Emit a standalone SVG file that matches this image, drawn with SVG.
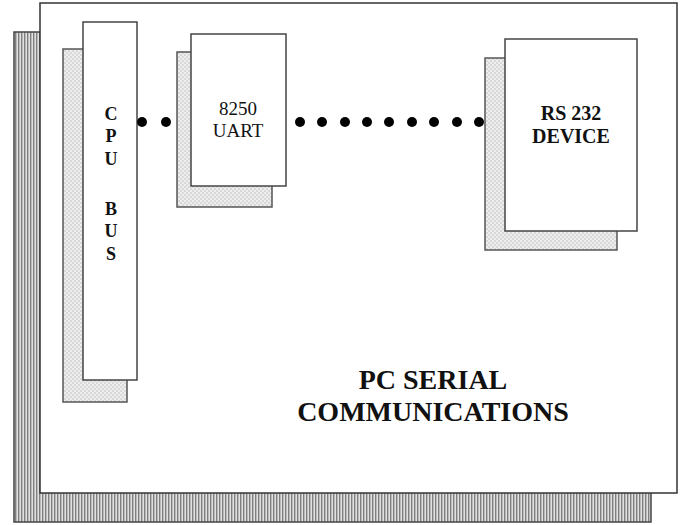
<svg xmlns="http://www.w3.org/2000/svg" width="683" height="525" viewBox="0 0 683 525">
<style>
.panel{fill:#fff;stroke:#333;stroke-width:1.5}
.front{fill:#fff;stroke:#444;stroke-width:1.5}
.shadow{fill:url(#dots);stroke:#555;stroke-width:1.5}
.outer-shadow{fill:url(#stripes);stroke:#444;stroke-width:1.5}
.lbl{font-family:"Liberation Serif","Times New Roman",serif;fill:#111;text-anchor:middle}
.b{font-weight:bold}
.dot{fill:#000}
</style>
<defs>
<pattern id="stripes" width="3" height="3" patternUnits="userSpaceOnUse">
<rect width="3" height="3" fill="#e0e0e0"/>
<rect width="1.4" height="3" fill="#808080"/>
</pattern>
<pattern id="dots" width="4" height="4" patternUnits="userSpaceOnUse">
<rect width="4" height="4" fill="#d8d8d8"/>
<circle cx="1" cy="1" r="0.9" fill="#fafafa"/>
<circle cx="3" cy="3" r="0.9" fill="#fafafa"/>
</pattern>
</defs>
<rect width="683" height="525" fill="#fff"/>
<g id="board">
<rect class="outer-shadow" x="14" y="32" width="637" height="490"/>
<rect class="panel" x="40" y="3" width="637" height="490"/>
</g>
<g id="cpu-bus">
<rect class="shadow" x="63" y="49" width="64" height="353"/>
<rect class="front" x="83" y="22" width="54" height="358"/>
<text class="lbl b" font-size="18" x="111" y="120">C</text>
<text class="lbl b" font-size="18" x="111" y="142">P</text>
<text class="lbl b" font-size="18" x="111" y="165">U</text>
<text class="lbl b" font-size="18" x="111" y="215">B</text>
<text class="lbl b" font-size="18" x="111" y="237">U</text>
<text class="lbl b" font-size="18" x="111" y="260">S</text>
</g>
<g id="uart">
<rect class="shadow" x="177" y="52" width="95" height="155"/>
<rect class="front" x="191" y="34" width="95" height="152"/>
<text class="lbl" font-size="19" x="238" y="115">8250</text>
<text class="lbl" font-size="19" x="238" y="137">UART</text>
</g>
<g id="rs232">
<rect class="shadow" x="485" y="58" width="132" height="192"/>
<rect class="front" x="505" y="39" width="132" height="192"/>
<text class="lbl b" font-size="20" x="571" y="120">RS 232</text>
<text class="lbl b" font-size="20" x="571" y="143">DEVICE</text>
</g>
<g id="title">
<text class="lbl b" font-size="28" x="433" y="389">PC SERIAL</text>
<text class="lbl b" font-size="28" x="433" y="421">COMMUNICATIONS</text>
</g>
<g id="connectors">
<circle class="dot" cx="142" cy="122" r="5"/>
<circle class="dot" cx="166" cy="122" r="5"/>
<circle class="dot" cx="300" cy="122" r="5"/>
<circle class="dot" cx="322" cy="122" r="5"/>
<circle class="dot" cx="345" cy="122" r="5"/>
<circle class="dot" cx="367" cy="122" r="5"/>
<circle class="dot" cx="389" cy="122" r="5"/>
<circle class="dot" cx="412" cy="122" r="5"/>
<circle class="dot" cx="434" cy="122" r="5"/>
<circle class="dot" cx="457" cy="122" r="5"/>
<circle class="dot" cx="479" cy="122" r="5"/>
</g>
</svg>
